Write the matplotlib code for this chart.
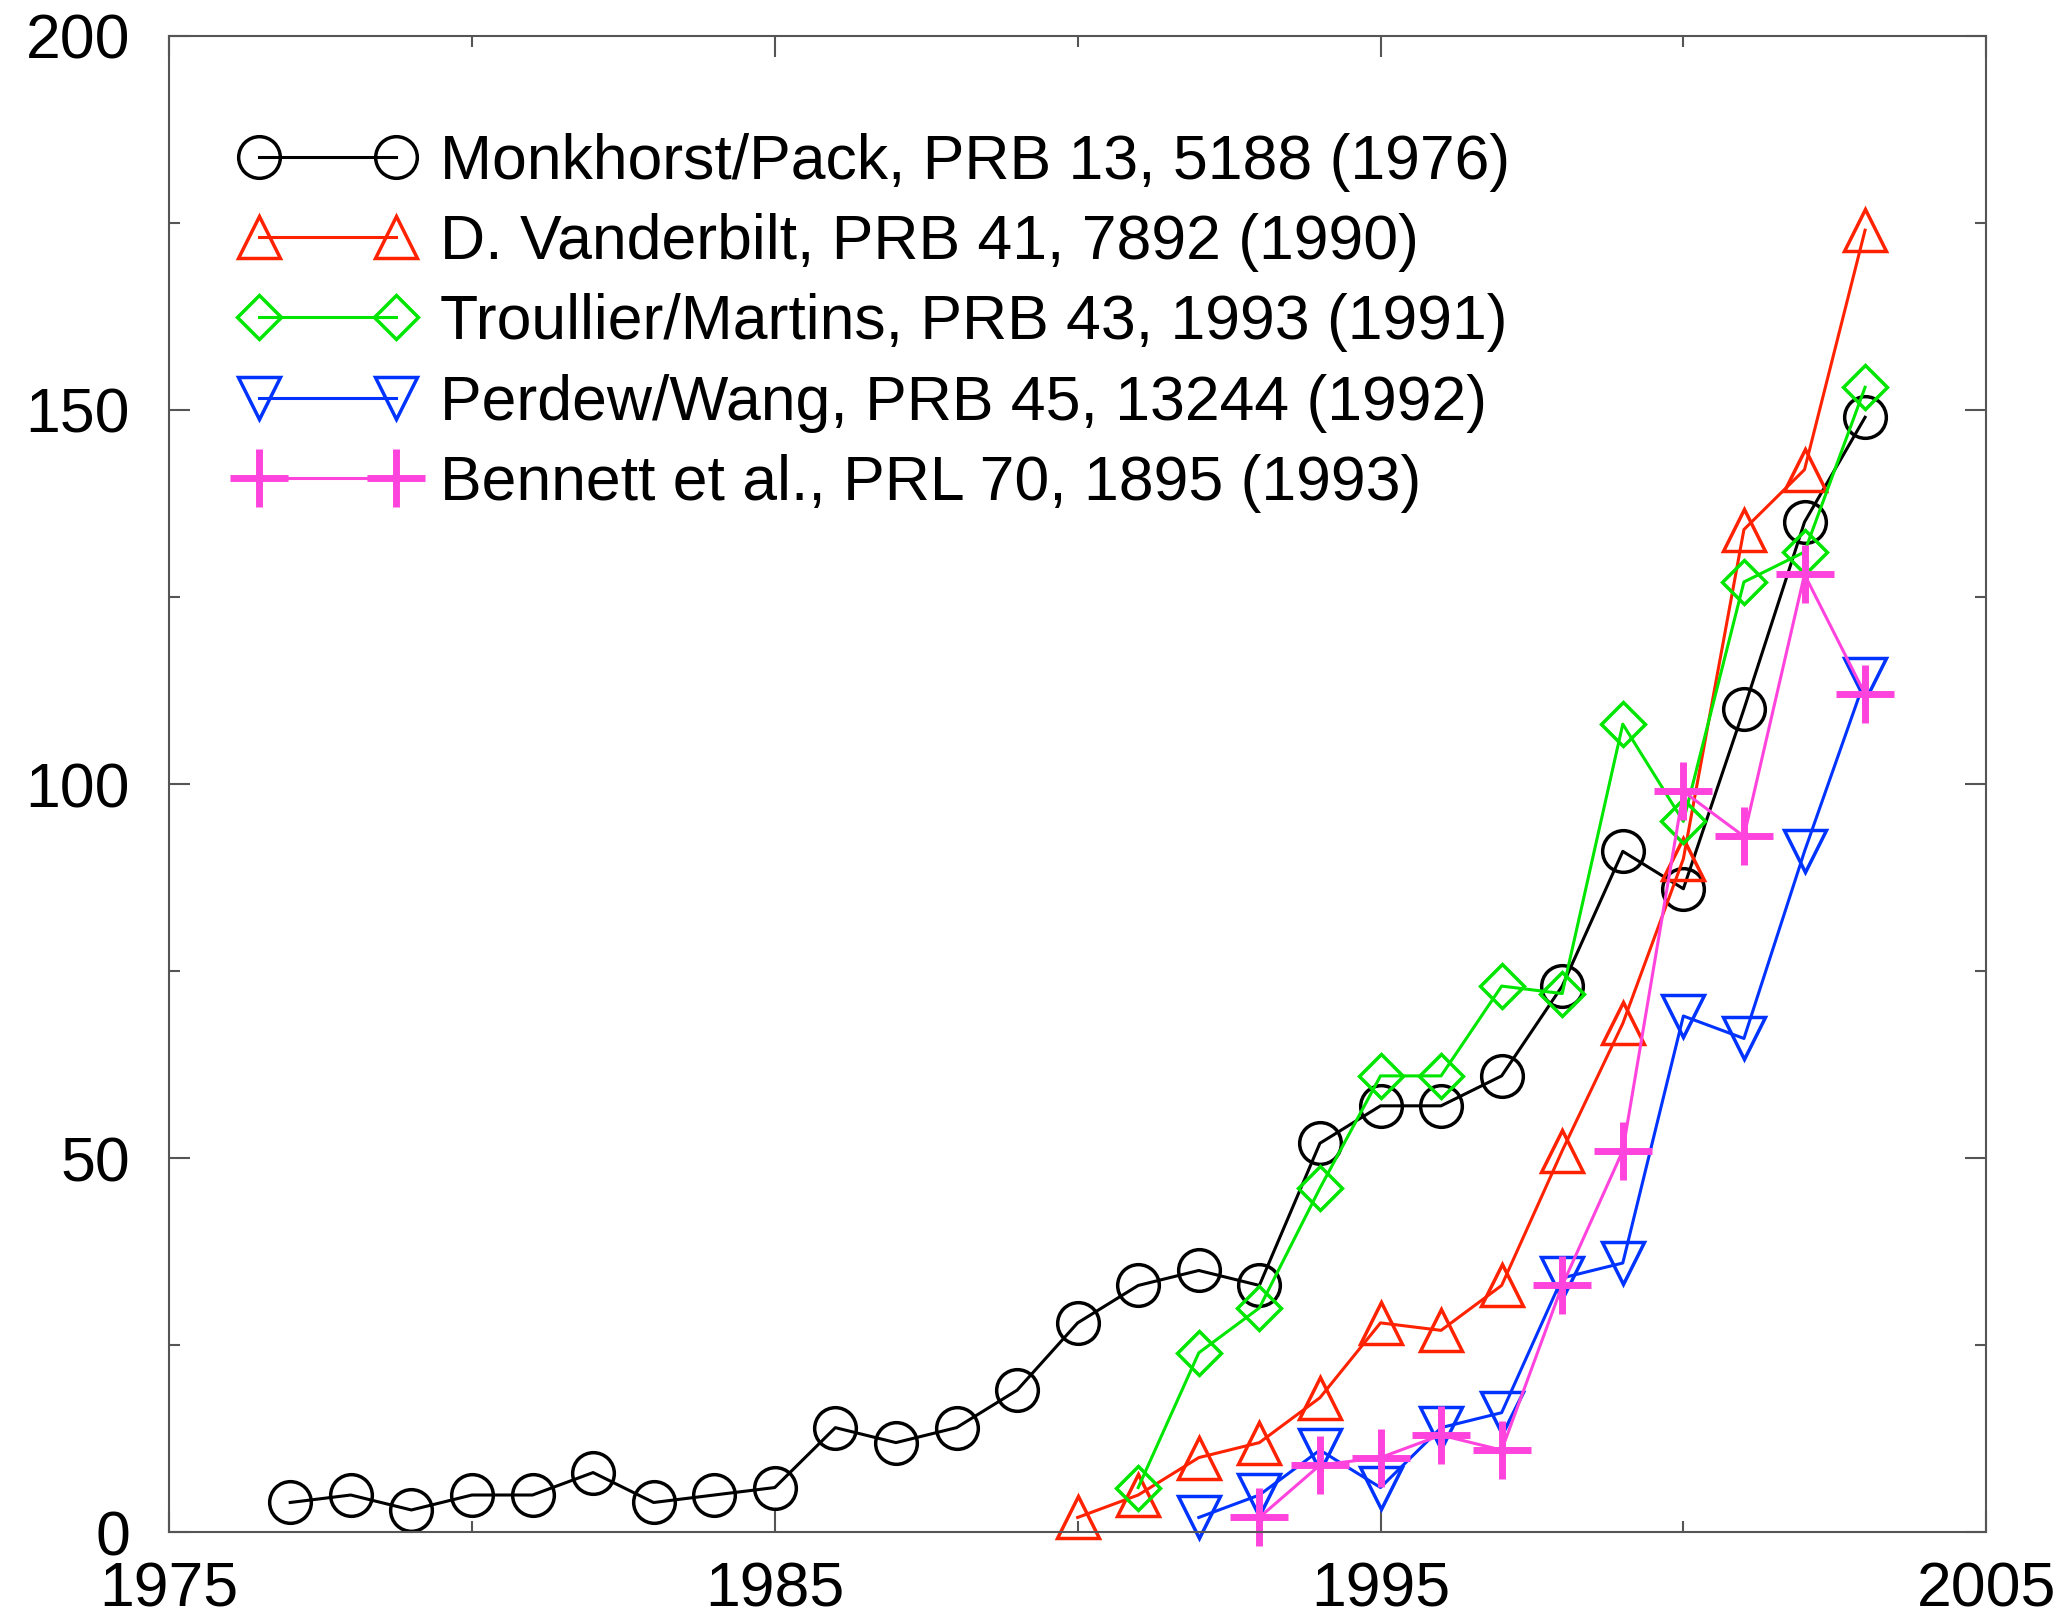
import numpy as np
import matplotlib
matplotlib.use("Agg")
import matplotlib.pyplot as plt

# citations per year
mp_years = list(range(1977, 2004))
mp_cites = [4, 5, 3, 5, 5, 8, 4, 5, 6, 14, 12, 14, 19, 28, 33, 35, 33,
            52, 57, 57, 61, 73, 91, 86, 110, 135, 149]

van_years = list(range(1990, 2004))
van_cites = [2, 5, 10, 12, 18, 28, 27, 33, 51, 68, 90, 134, 142, 174]

tm_years = list(range(1991, 2004))
tm_cites = [6, 24, 30, 46, 61, 61, 73, 72, 108, 95, 127, 131, 153]

pw_years = list(range(1992, 2004))
pw_cites = [2, 5, 11, 6, 14, 16, 34, 36, 69, 66, 91, 114]

ben_years = list(range(1993, 2004))
ben_cites = [2, 9, 10, 13, 11, 33, 51, 99, 93, 128, 112]

labels = ["Monkhorst/Pack, PRB 13, 5188 (1976)",
          "D. Vanderbilt, PRB 41, 7892 (1990)",
          "Troullier/Martins, PRB 43, 1993 (1991)",
          "Perdew/Wang, PRB 45, 13244 (1992)",
          "Bennett et al., PRL 70, 1895 (1993)"]

plt.rcParams['font.family'] = ['Liberation Sans', 'DejaVu Sans']

fig = plt.figure(figsize=(20.72, 16.17), dpi=100)
ax = fig.add_axes([0.0816, 0.0523, 0.877, 0.9257])

ax.plot(mp_years, mp_cites, color='black', lw=2.2, marker='o', ms=30,
        mfc='none', mec='black', mew=2.5, label=labels[0], clip_on=False)
ax.plot(van_years, van_cites, color='#ff2200', lw=2.2, marker='^', ms=30,
        mfc='none', mec='#ff2200', mew=2.5, label=labels[1], clip_on=False)
ax.plot(tm_years, tm_cites, color='#00e600', lw=2.2, marker='D', ms=22,
        mfc='none', mec='#00e600', mew=2.5, label=labels[2], clip_on=False)
ax.plot(pw_years, pw_cites, color='#0033ff', lw=2.2, marker='v', ms=30,
        mfc='none', mec='#0033ff', mew=2.5, label=labels[3], clip_on=False)
ax.plot(ben_years, ben_cites, color='#ff44dd', lw=2.2, marker='+', ms=42,
        mec='#ff44dd', mew=5, label=labels[4], clip_on=False)

ax.set_xlim(1975, 2005)
ax.set_ylim(0, 200)
ax.set_xticks([1975, 1985, 1995, 2005])
ax.set_xticks([1980, 1990, 2000], minor=True)
ax.set_yticks([0, 50, 100, 150, 200])
ax.set_yticks([25, 75, 125, 175], minor=True)
ax.tick_params(which='both', direction='in', top=True, right=True,
               labelsize=45, color='#555555', width=1.5)
ax.tick_params(which='major', length=15)
ax.tick_params(which='minor', length=8)
ax.tick_params(axis='y', pad=28)
ax.tick_params(axis='x', pad=20)
for s in ax.spines.values():
    s.set_color('#555555')
    s.set_linewidth(1.5)

ax.legend(loc='upper left', bbox_to_anchor=(0.039, 0.935), frameon=False,
          fontsize=45, numpoints=2, handlelength=2.8, handletextpad=0.4,
          labelspacing=0.34, borderpad=0, borderaxespad=0)

fig.savefig('out.png', dpi=100)
